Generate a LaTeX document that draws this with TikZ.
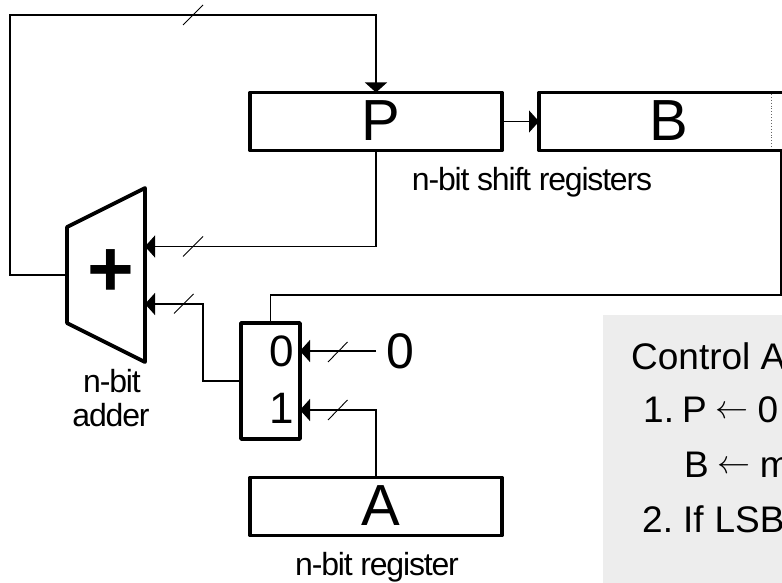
\documentclass[tikz,border=0pt]{standalone}
\usepackage{fontspec}
\setmainfont{Liberation Sans}
\newfontfamily\tightfont[LetterSpace=-3.7]{Liberation Sans}
\usetikzlibrary{arrows.meta,calc}
\newcommand{\ctlarrow}{\hspace{9pt}\raisebox{4pt}{\resizebox{33pt}{!}{$\leftarrow$}}\hspace{9pt}}
\tikzset{
  x=1pt,y=-1pt,
  thickline/.style={line width=3.8pt,line join=round,line cap=round},
  thin wire/.style={line width=1.1pt,line join=miter},
  wirearrow/.style={thin wire,-{Triangle[length=10pt,width=22pt]},shorten >=0pt},
  slashmark/.style={line width=0.9pt},
  regbox/.style={draw,thickline,rectangle,minimum width=252pt,minimum height=58pt,inner sep=0pt,outer sep=0pt,font=\fontsize{58}{58}\selectfont},
  muxbox/.style={draw,thickline,rectangle,minimum width=59pt,minimum height=116pt,inner sep=0pt,outer sep=0pt},
  muxlabel/.style={inner sep=0pt,font=\fontsize{44}{44}\selectfont},
  caption/.style={inner sep=0pt,anchor=base,align=center,font=\fontsize{32}{34}\tightfont},
  ctltext/.style={inner sep=0pt,anchor=base west,font=\fontsize{37}{37}\selectfont},
}
\begin{document}
\begin{tikzpicture}
\useasboundingbox (0,0) rectangle (782,583);
\clip (0,0) rectangle (782,583);
% control panel
\fill[fill=black!7] (603,315) rectangle (782,583);
\node[ctltext] (ctl0) at (631,369) {Control A};
\node[ctltext] (ctl1) at (643,422) {1.\hspace{8pt}P\ctlarrow 0};
\node[ctltext] (ctl2) at (684,477) {B\ctlarrow m};
\node[ctltext] (ctl3) at (642,532) {2.\hspace{10pt}If\hspace{11pt}LSB};
% registers
\node[regbox] (P) at (376,121.5) {\hspace*{9pt}\raisebox{2pt}{P}};
\node[regbox] (B) at (665,121.5) {\hspace*{7pt}\raisebox{2pt}{B}};
\node[regbox] (A) at (376,506.5) {\hspace*{9pt}\raisebox{2pt}{A}};
\draw[dotted,line width=0.9pt,black!60] (771,94) -- (771,149);
% mux
\node[muxbox] (mux) at (270.5,381) {};
\node[muxlabel] (mux0) at (281.5,351) {0};
\node[muxlabel] (mux1) at (281.5,408.5) {1};
\node[inner sep=0pt,font=\fontsize{50}{50}\selectfont] (zero) at (400,351) {0};
% adder
\coordinate (aTL) at (67,227);
\coordinate (aTR) at (145,188);
\coordinate (aBR) at (145,362);
\coordinate (aBL) at (67,323);
\draw[thickline] (aTL) -- (aTR) -- (aBR) -- (aBL) -- cycle;
\node[inner sep=0pt,font=\fontsize{80}{80}\bfseries\selectfont] (plus) at (111,273) {+};
\coordinate (aOut) at (67,275);
\coordinate (aIn1) at (145,246.5);
\coordinate (aIn2) at (145,304);
% wires
\draw[wirearrow] (aOut) -- (10,275) -- (10,15) -- (P.north |- 0,15) -- (P.north);
\draw[wirearrow] (P.south) |- (aIn1);
\draw[wirearrow] (P.east) -- (B.west);
\draw[wirearrow] (mux.west) -- (203,381) -- (203,304) -- (aIn2);
\draw[thin wire] (781,151) -- (781,295) -- (mux.north |- 0,295) -- (mux.north);
\draw[wirearrow] (zero.west -| 376,0) ++(0,0) -- (mux.east |- zero.west);
\coordinate (m1in) at (mux.east |- 0,410);
\draw[wirearrow] (A.north) |- (m1in);
% bus slashes
\draw[slashmark] (183,25) -- (203,5);
\draw[slashmark] (183,256.5) -- (203,236.5);
\draw[slashmark] (174,313.5) -- (193.5,294);
\draw[slashmark] (328,362) -- (347.5,342);
\draw[slashmark] (328,420) -- (347.5,400);
% captions
\node[caption] (capS) at (532,190) {n-bit shift registers};
\node[caption] (capA1) at (112,392) {n-bit};
\node[caption] (capA2) at (111,426) {adder};
\node[caption] (capR) at (377,575) {n-bit register};
\end{tikzpicture}
\end{document}
